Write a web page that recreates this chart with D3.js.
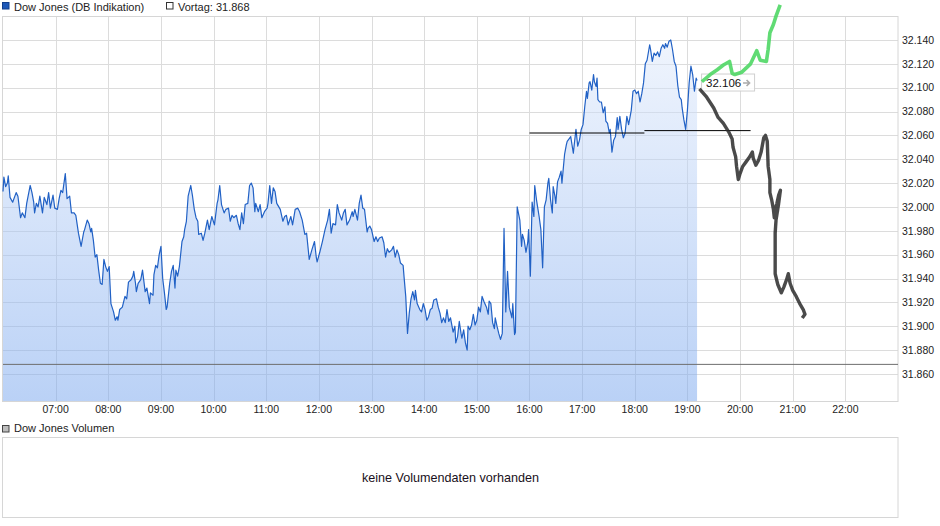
<!DOCTYPE html>
<html>
<head>
<meta charset="utf-8">
<script src="https://cdnjs.cloudflare.com/ajax/libs/d3/7.8.5/d3.min.js"></script>
<style>
  html, body { margin: 0; padding: 0; background: #fff; }
  svg { display: block; font-family: "Liberation Sans", Arial, sans-serif; }
</style>
</head>
<body>
<svg id="chart" width="940" height="526"></svg>
<script>
// ---------------- DATA ----------------
const seriesName = "Dow Jones (DB Indikation)";
const prevCloseLabel = "Vortag: 31.868";
const prevClose = 31.868;
const volumeName = "Dow Jones Volumen";
const volumeMessage = "keine Volumendaten vorhanden";

const xTickLabels = ["07:00","08:00","09:00","10:00","11:00","12:00","13:00","14:00","15:00","16:00","17:00","18:00","19:00","20:00","21:00","22:00"];
const yTickValues = [31.86,31.88,31.90,31.92,31.94,31.96,31.98,32.00,32.02,32.04,32.06,32.08,32.10,32.12,32.14];
const xDomain = ["06:00","23:00"];
const yDomain = [31.8373, 32.1601];

const times = ["06:00","06:01","06:03","06:05","06:06","06:08","06:11","06:15","06:17","06:20","06:22","06:25","06:27","06:31","06:33","06:35","06:36","06:38","06:40","06:42","06:45","06:47","06:50","06:52","06:54","06:57","06:59",
"07:02","07:04","07:06","07:08","07:11","07:13","07:16","07:18","07:21","07:23","07:26","07:29","07:32","07:33","07:36","07:38","07:40","07:41","07:43","07:45","07:47","07:49","07:51","07:53","07:55","07:57","07:59",
"08:01","08:03","08:06","08:08","08:10","08:11","08:13","08:16","08:19","08:21","08:23","08:26","08:28","08:29","08:31","08:32","08:34","08:37","08:39","08:42","08:44","08:47","08:48","08:51","08:52","08:54","08:56","08:58",
"09:00","09:02","09:04","09:06","09:07","09:10","09:12","09:14","09:16","09:17","09:19","09:21","09:24","09:26","09:27","09:29","09:31","09:34","09:36","09:38","09:40","09:42","09:43","09:46","09:48","09:50","09:53","09:55","09:58",
"10:01","10:04","10:05","10:07","10:09","10:12","10:14","10:17","10:19","10:21","10:23","10:26","10:28","10:30","10:32","10:34","10:36","10:39","10:41","10:43","10:45","10:47","10:48","10:51","10:53","10:55","10:58",
"11:01","11:02","11:04","11:06","11:08","11:10","11:12","11:16","11:19","11:21","11:23","11:25","11:28","11:30","11:33","11:36","11:38","11:41","11:44","11:46","11:49","11:52","11:55","11:57","11:58",
"12:01","12:04","12:07","12:10","12:12","12:14","12:16","12:19","12:21","12:23","12:26","12:28","12:30","12:32","12:35","12:38","12:39","12:41","12:44","12:46","12:48","12:50","12:52","12:55","12:56","12:58",
"13:00","13:03","13:05","13:07","13:09","13:12","13:14","13:16","13:18","13:20","13:23","13:25","13:27","13:29","13:31","13:33","13:36","13:37","13:39","13:41","13:43","13:45","13:47","13:49","13:50","13:52","13:55","13:57","13:59",
"14:01","14:03","14:05","14:07","14:09","14:11","14:14","14:16","14:18","14:20","14:22","14:24","14:26","14:28","14:30","14:33","14:35","14:36","14:38","14:40","14:42","14:43","14:45","14:47","14:49","14:50","14:52","14:54","14:56","14:58",
"15:00","15:02","15:04","15:06","15:08","15:11","15:13","15:14","15:16","15:18","15:20","15:21","15:23","15:25","15:27","15:29","15:31","15:33","15:35","15:37","15:40","15:41","15:43","15:44","15:46","15:49","15:51","15:52","15:54","15:56","15:58","15:59",
"16:01","16:03","16:05","16:06","16:08","16:11","16:13","16:15","16:17","16:19","16:21","16:22","16:24","16:26","16:27","16:29","16:30","16:32","16:34","16:36","16:37","16:40","16:42","16:43","16:46","16:47","16:50","16:51","16:53","16:55","16:57","16:59",
"17:01","17:03","17:05","17:06","17:08","17:09","17:11","17:13","17:14","17:16","17:17","17:18","17:20","17:22","17:24","17:26","17:27","17:29","17:31","17:32","17:34","17:36","17:38","17:40","17:41","17:43","17:45","17:47","17:49","17:51","17:53","17:56","17:58",
"18:00","18:02","18:04","18:06","18:08","18:10","18:12","18:14","18:17","18:18","18:20","18:22","18:24","18:26","18:28","18:30","18:32","18:34","18:35","18:37","18:39","18:41","18:43","18:45","18:47","18:49","18:51","18:53","18:54","18:56","18:58",
"19:00","19:02","19:04","19:06","19:08","19:10","19:11"];

const values = [32.013,32.025,32.017,32.020,32.026,32.008,32.004,32.012,32.009,31.991,31.995,31.991,32.003,32.018,32.012,32.004,31.995,32.003,32.000,32.009,31.995,32.008,32.002,32.012,31.999,32.010,31.999,
31.998,32.007,32.014,32.012,32.028,32.007,32.009,31.995,31.995,31.993,31.978,31.967,31.979,31.981,31.989,31.986,31.979,31.982,31.972,31.958,31.960,31.947,31.936,31.935,31.956,31.950,31.946,
31.950,31.919,31.912,31.905,31.908,31.905,31.914,31.916,31.925,31.923,31.937,31.939,31.942,31.946,31.936,31.929,31.936,31.939,31.947,31.929,31.932,31.919,31.928,31.926,31.943,31.951,31.949,31.960,
31.967,31.940,31.928,31.914,31.916,31.936,31.946,31.951,31.932,31.947,31.942,31.950,31.971,31.975,31.981,31.988,32.009,32.018,32.009,31.998,31.991,31.988,31.977,31.978,31.972,31.978,31.989,31.981,31.992,
31.985,32.003,32.006,32.018,32.002,31.995,31.998,31.999,31.988,31.993,31.991,31.993,31.986,31.981,31.995,31.986,32.002,32.003,32.018,32.020,32.016,31.996,32.003,31.996,32.002,31.991,31.996,
31.999,32.003,32.018,32.003,32.016,32.013,32.003,31.998,31.988,31.992,31.993,31.985,31.992,31.985,31.998,31.999,31.996,31.989,31.977,31.978,31.956,31.964,31.971,31.958,31.954,
31.962,31.971,31.981,31.989,31.998,31.978,31.986,31.985,32.002,31.995,31.989,31.995,31.998,31.985,31.989,31.996,31.992,31.998,31.989,32.003,32.010,31.999,31.998,31.979,31.982,31.984,
31.981,31.971,31.975,31.971,31.974,31.975,31.970,31.958,31.965,31.962,31.964,31.967,31.958,31.964,31.960,31.953,31.951,31.942,31.925,31.894,31.911,31.923,31.929,31.922,31.930,31.919,31.914,31.912,31.919,
31.914,31.905,31.908,31.914,31.915,31.922,31.923,31.916,31.911,31.903,31.907,31.903,31.914,31.904,31.907,31.895,31.900,31.886,31.891,31.904,31.894,31.890,31.897,31.886,31.880,31.900,31.897,31.901,31.910,31.901,
31.905,31.916,31.912,31.925,31.921,31.916,31.910,31.921,31.919,31.903,31.898,31.907,31.900,31.894,31.889,31.894,31.982,31.912,31.946,31.916,31.907,31.919,31.893,31.895,32.000,31.989,31.967,31.977,31.972,31.962,31.970,31.981,
31.942,32.004,31.992,32.018,32.006,31.992,31.981,31.949,32.000,32.006,32.020,32.024,32.006,31.995,32.017,32.009,32.003,32.021,32.025,32.030,32.020,32.044,32.052,32.055,32.058,32.059,32.045,32.052,32.065,32.051,32.056,32.065,
32.069,32.084,32.097,32.091,32.104,32.105,32.098,32.111,32.105,32.101,32.108,32.090,32.088,32.088,32.079,32.084,32.072,32.070,32.062,32.065,32.046,32.056,32.059,32.075,32.065,32.076,32.065,32.058,32.062,32.076,32.069,32.081,32.097,
32.098,32.095,32.097,32.088,32.095,32.104,32.120,32.123,32.136,32.132,32.122,32.129,32.127,32.130,32.126,32.133,32.136,32.133,32.137,32.134,32.139,32.140,32.132,32.122,32.118,32.102,32.092,32.090,32.083,32.073,32.065,
32.081,32.104,32.118,32.111,32.097,32.108,32.106];

// Drawn annotations (hand-drawn marker strokes and horizontal lines)
const greenTimes  = ["19:18","19:26","19:34","19:41","19:48","19:51","19:54","20:02","20:12","20:19","20:23","20:30","20:32","20:34","20:38","20:41","20:45"];
const greenValues = [32.106,32.111,32.115,32.119,32.122,32.112,32.111,32.113,32.120,32.131,32.123,32.122,32.132,32.146,32.153,32.160,32.168];

const blackTimes  = ["19:15","19:22","19:30","19:35","19:41","19:47","19:51","19:52","19:55","19:56","19:58","20:00","20:03","20:07","20:11","20:14","20:15","20:18","20:21","20:24","20:27","20:29","20:31","20:32","20:34","20:34","20:36","20:38","20:39","20:40","20:42","20:44","20:46","20:44","20:41","20:40","20:40","20:40","20:43","20:47","20:50","20:53","20:55","20:57","21:00","21:04","21:08","21:12","21:14","21:12"];
const blackValues = [32.098,32.092,32.083,32.075,32.070,32.063,32.057,32.050,32.042,32.034,32.023,32.028,32.034,32.038,32.042,32.046,32.041,32.035,32.039,32.046,32.058,32.060,32.055,32.034,32.023,32.012,32.006,31.998,31.991,31.998,32.003,32.010,32.014,32.003,31.989,31.978,31.961,31.944,31.935,31.928,31.933,31.939,31.944,31.936,31.930,31.925,31.919,31.914,31.910,31.908];

const hLineStarts = ["16:00","18:11"];
const hLineEnds   = ["18:11","20:12"];
const hLineValues = [32.062,32.064];

// ---------------- DRAW ----------------
const svg = d3.select("#chart");
const parse = d3.timeParse("%H:%M");
const plot = { left: 3, right: 898, top: 16, bottom: 401 };

const x = d3.scaleTime().domain(xDomain.map(parse)).range([plot.left, plot.right]);
const y = d3.scaleLinear().domain(yDomain).range([plot.bottom, plot.top]);

const defs = svg.append("defs");
const grad = defs.append("linearGradient").attr("id", "fillGrad")
  .attr("gradientUnits", "userSpaceOnUse")
  .attr("x1", 0).attr("x2", 0).attr("y1", plot.top).attr("y2", plot.bottom);
grad.append("stop").attr("offset", "0%").attr("stop-color", "#e6eefc").attr("stop-opacity", 0.5);
grad.append("stop").attr("offset", "100%").attr("stop-color", "#7aa7ee").attr("stop-opacity", 0.52);

const blur = defs.append("filter").attr("id", "soft").attr("x", "-20%").attr("y", "-20%").attr("width", "140%").attr("height", "140%");
blur.append("feGaussianBlur").attr("stdDeviation", 0.7);

// Legend top
svg.append("rect").attr("x", 2.5).attr("y", 2.5).attr("width", 6.5).attr("height", 6.5)
  .attr("fill", "#1d58b8").attr("stroke", "#123f8c").attr("stroke-width", 1);
svg.append("text").attr("x", 14).attr("y", 10.5).attr("font-size", 11).attr("fill", "#222").text(seriesName);
svg.append("rect").attr("x", 166.5).attr("y", 2.5).attr("width", 6.5).attr("height", 6.5)
  .attr("fill", "#fff").attr("stroke", "#333").attr("stroke-width", 1);
svg.append("text").attr("x", 178).attr("y", 10.5).attr("font-size", 11).attr("fill", "#222").text(prevCloseLabel);

// Grid
const gridColor = "#dcdcdc";
svg.append("g").selectAll("line").data(xTickLabels).join("line")
  .attr("x1", d => Math.round(x(parse(d))) + 0.5).attr("x2", d => Math.round(x(parse(d))) + 0.5)
  .attr("y1", plot.top).attr("y2", plot.bottom)
  .attr("stroke", gridColor).attr("stroke-width", 1);
svg.append("g").selectAll("line").data(yTickValues).join("line")
  .attr("x1", plot.left).attr("x2", plot.right)
  .attr("y1", d => Math.round(y(d)) + 0.5).attr("y2", d => Math.round(y(d)) + 0.5)
  .attr("stroke", gridColor).attr("stroke-width", 1);

// Frame
svg.append("rect").attr("x", plot.left - 0.5).attr("y", plot.top + 0.5)
  .attr("width", plot.right - plot.left + 0.5).attr("height", plot.bottom - plot.top)
  .attr("fill", "none").attr("stroke", "#d6d6d6").attr("stroke-width", 1);

// Area + line
const pts = times.map((t, i) => ({ t: parse(t), v: values[i] }));
const area = d3.area().x(d => x(d.t)).y0(plot.bottom).y1(d => y(d.v));
svg.append("path").datum(pts).attr("d", area).attr("fill", "url(#fillGrad)");

// Vortag line
svg.append("line").attr("x1", plot.left).attr("x2", plot.right)
  .attr("y1", y(prevClose)).attr("y2", y(prevClose))
  .attr("stroke", "#6e6e6e").attr("stroke-width", 1);

const line = d3.line().x(d => x(d.t)).y(d => y(d.v));
svg.append("path").datum(pts).attr("d", line)
  .attr("fill", "none").attr("stroke", "#2161c5").attr("stroke-width", 1.2).attr("stroke-linejoin", "round");

// Axis labels
svg.append("g").selectAll("text").data(xTickLabels).join("text")
  .attr("x", d => x(parse(d))).attr("y", 413)
  .attr("text-anchor", "middle").attr("font-size", 10.5).attr("fill", "#222").text(d => d);
svg.append("g").selectAll("text").data(yTickValues).join("text")
  .attr("x", 902).attr("y", d => y(d)).attr("dy", "0.36em")
  .attr("font-size", 10.5).attr("fill", "#222")
  .text(d => d3.format(",.3f")(d).replace(",", "."));

// Horizontal black annotation lines
svg.append("g").selectAll("line").data(hLineValues).join("line")
  .attr("x1", (d, i) => x(parse(hLineStarts[i]))).attr("x2", (d, i) => x(parse(hLineEnds[i])))
  .attr("y1", d => y(d)).attr("y2", d => y(d))
  .attr("stroke", "#000").attr("stroke-width", 1);

// Last value label
const last = pts[pts.length - 1];
const lx = x(last.t) + 4, ly = y(last.v) + 2;
const lab = svg.append("g").attr("transform", `translate(${lx},${ly})`);
lab.append("rect").attr("x", 0.5).attr("y", -8.5).attr("width", 53).attr("height", 17)
  .attr("fill", "#fff").attr("fill-opacity", 0.85).attr("stroke", "#d0d0d0").attr("stroke-width", 1);
lab.append("text").attr("x", 5).attr("y", 4).attr("font-size", 11.5).attr("fill", "#111").text(d3.format(".3f")(last.v));
lab.append("path").attr("d", "M42,0.5 L48,0.5 M45.5,-2.5 L48.5,0.5 L45.5,3.5")
  .attr("fill", "none").attr("stroke", "#aaa").attr("stroke-width", 1.6);

// Hand-drawn marker strokes
const gPts = greenTimes.map((t, i) => ({ t: parse(t), v: greenValues[i] }));
const bPts = blackTimes.map((t, i) => ({ t: parse(t), v: blackValues[i] }));
svg.append("path").datum(gPts).attr("d", line)
  .attr("fill", "none").attr("stroke", "#4fd765").attr("stroke-opacity", 0.9)
  .attr("stroke-width", 3.6).attr("stroke-linejoin", "round").attr("stroke-linecap", "square")
  .attr("filter", "url(#soft)");
svg.append("path").datum(bPts).attr("d", line)
  .attr("fill", "none").attr("stroke", "#2a2a2a").attr("stroke-opacity", 0.85)
  .attr("stroke-width", 3.4).attr("stroke-linejoin", "round").attr("stroke-linecap", "square")
  .attr("filter", "url(#soft)");

// Volume panel
svg.append("rect").attr("x", 2.5).attr("y", 425.5).attr("width", 6.5).attr("height", 6.5)
  .attr("fill", "#bdbdbd").attr("stroke", "#444").attr("stroke-width", 1);
svg.append("text").attr("x", 14).attr("y", 432).attr("font-size", 11).attr("fill", "#222").text(volumeName);
svg.append("rect").attr("x", plot.left - 0.5).attr("y", 437.5)
  .attr("width", plot.right - plot.left + 0.5).attr("height", 80)
  .attr("fill", "none").attr("stroke", "#d6d6d6").attr("stroke-width", 1);
svg.append("text").attr("x", (plot.left + plot.right) / 2).attr("y", 482)
  .attr("text-anchor", "middle").attr("font-size", 12.6).attr("fill", "#1a1020").text(volumeMessage);
</script>
</body>
</html>
